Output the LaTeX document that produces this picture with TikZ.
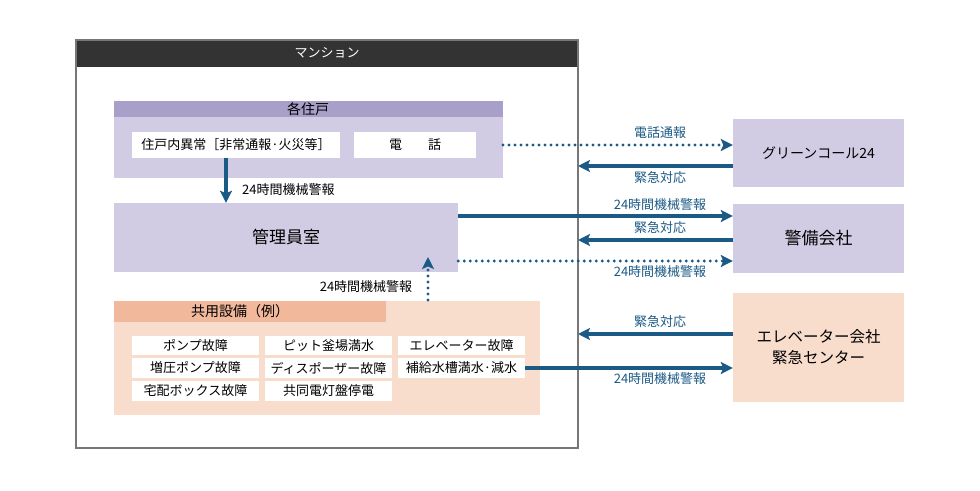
\documentclass[tikz,border=0pt]{standalone}
\usepackage{fontspec}
\setmainfont{Noto Sans CJK JP}
\usetikzlibrary{arrows.meta}
\definecolor{hdr}{HTML}{333333}
\definecolor{pband}{HTML}{A9A0C9}
\definecolor{pfill}{HTML}{D1CCE4}
\definecolor{oband}{HTML}{F2B89B}
\definecolor{ofill}{HTML}{F9DDCC}
\definecolor{ablue}{HTML}{1B5A85}
\definecolor{bord}{HTML}{777777}
\tikzset{
  lbl/.style={font=\fontsize{13}{14}\selectfont, text=ablue, inner sep=0pt},
  blbl/.style={font=\fontsize{13}{14}\selectfont, text=black, inner sep=0pt},
  wbox/.style={fill=white, draw=none, inner sep=0pt, font=\fontsize{13}{14}\selectfont},
  solidarr/.style={ablue, line width=3.2pt, -{Stealth[length=12pt,width=12pt,inset=2.5pt]}},
  dotarr/.style={ablue, line width=3.4pt, line cap=round, dash pattern=on 0pt off 6pt, -{Stealth[length=12pt,width=12pt,inset=2.5pt,line cap=butt,sep=0pt]}},
}
\begin{document}
\begin{tikzpicture}[x=1pt,y=-1pt]
\useasboundingbox (0,0) rectangle (980,490);
% mansion
\fill[hdr] (76,40) rectangle (578,67);
\draw[bord, line width=1.2pt] (76,40) rectangle (578,448);
\node[text=white, font=\fontsize{13}{14}\selectfont] (mansion) at (327,53) {マンション};
% kaku jyuko
\fill[pfill] (114,101) rectangle (503,178);
\fill[pband] (114,101) rectangle (503,117);
\node[font=\fontsize{14}{15}\selectfont] (kaku) at (308,109) {各住戸};
\node[wbox, minimum width=208pt, minimum height=26pt] (ijo) at (236,145) {住戸内異常［非常通報·火災等］};
\node[wbox, minimum width=122pt, minimum height=26pt] (tel) at (415,145) {電\hspace{2em}話};
\coordinate (kakuR) at (503,145);
% kanriin
\node[fill=pfill, minimum width=344pt, minimum height=69pt, inner sep=0pt, font=\fontsize{17}{18}\selectfont] (kanri) at (286,237.5) {管理員室};
% kyoyo
\fill[ofill] (114,301) rectangle (540,415);
\fill[oband] (114,301) rectangle (386,322);
\node[font=\fontsize{14}{15}\selectfont] (kyoyo) at (240,311.5) {共用設備（例）};
\foreach \nm/\x/\y/\t in {
  a1/195.5/345.5/ポンプ故障, a2/195.5/368/増圧ポンプ故障, a3/195.5/391/宅配ボックス故障,
  b1/328.5/345.5/ピット釜場満水, b2/328.5/368/ディスポーザー故障, b3/328.5/391/共同電灯盤停電,
  c1/461.5/345.5/エレベーター故障}
  \node[wbox, minimum width=127pt, minimum height=19.5pt] (\nm) at (\x,\y) {\t};
\node[wbox, minimum width=127pt, minimum height=19.5pt] (c2) at (461.5,368) {補給水槽満水·減水};
% right boxes
\node[fill=pfill, minimum width=171pt, minimum height=68pt, inner sep=0pt, font=\fontsize{14}{15}\selectfont] (green) at (818.5,153) {グリーンコール24};
\node[fill=pfill, minimum width=171pt, minimum height=69pt, inner sep=0pt, font=\fontsize{17}{18}\selectfont] (keibi) at (818.5,238.5) {警備会社};
\node[fill=ofill, minimum width=171pt, minimum height=109pt, inner sep=0pt, align=center, font=\fontsize{15.5}{21}\selectfont] (elev) at (818.5,347.5) {エレベーター会社\\緊急センター};
% coordinates on mansion border
\coordinate (m1) at (578,166);
\coordinate (m2) at (578,240);
\coordinate (m3) at (578,334);
\coordinate (kupTop) at (428,257);
\coordinate (kupBot) at (428,300);
% arrows
\draw[solidarr] (ijo.south -| 226,0) -- (kanri.north -| 226,0);
\node[blbl, anchor=west] (l0) at (242,190) {24時間機械警報};
\draw[dotarr] (kupBot) -- (kupTop);
\node[blbl] (l1) at (366,287) {24時間機械警報};
\draw[dotarr] (kakuR) -- (green.west |- kakuR);
\node[lbl] (l2) at (660,133) {電話通報};
\draw[solidarr] (green.west |- m1) -- (m1);
\node[lbl] (l3) at (660,178) {緊急対応};
\draw[solidarr] (kanri.east |- 0,216) -- (keibi.west |- 0,216);
\node[lbl] (l4) at (660,205) {24時間機械警報};
\draw[solidarr] (keibi.west |- m2) -- (m2);
\node[lbl] (l5) at (660,228) {緊急対応};
\draw[dotarr] (kanri.east |- 0,261) -- (keibi.west |- 0,261);
\node[lbl] (l6) at (660,272) {24時間機械警報};
\draw[solidarr] (elev.west |- m3) -- (m3);
\node[lbl] (l7) at (660,322) {緊急対応};
\draw[solidarr] (c2.east) -- (elev.west |- c2.east);
\node[lbl] (l8) at (660,379) {24時間機械警報};
\end{tikzpicture}
\end{document}
